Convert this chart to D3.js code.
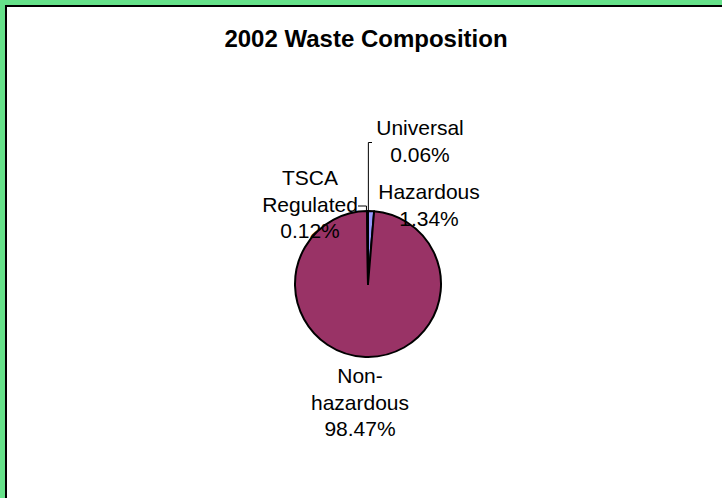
<!DOCTYPE html>
<html>
<head>
<meta charset="utf-8">
<title>2002 Waste Composition</title>
<script src="https://d3js.org/d3.v7.min.js"></script>
<style>
  body { margin: 0; background: #66e28a; }
  svg { display: block; font-family: "Liberation Sans", Arial, sans-serif; }
</style>
</head>
<body>
<svg id="chart" width="722" height="498"></svg>
<script>
// data
var categories = ["Hazardous", "Non-hazardous", "TSCA Regulated", "Universal"];
var shares = [1.34, 98.47, 0.12, 0.06];
var labelLines = [["Hazardous"], ["Non-", "hazardous"], ["TSCA", "Regulated"], ["Universal"]];
var sliceColors = ["#9999ff", "#993366", "#ffffcc", "#ccffff"];

var width = 722, height = 498;
var cx = 368, cy = 284, radius = 73;

// where Excel put each label (centre x, first baseline)
var labelPos = [
  { x: 429, y: 199 },
  { x: 360, y: 383 },
  { x: 310, y: 185 },
  { x: 420, y: 135 }
];
var lineGap = 26.5;

var svg = d3.select("#chart");

// plot area
svg.append("rect")
  .attr("x", 6).attr("y", 6)
  .attr("width", width).attr("height", height)
  .attr("fill", "#fff")
  .attr("stroke", "#000")
  .attr("stroke-width", 2);

svg.append("text")
  .attr("x", 366).attr("y", 47)
  .attr("text-anchor", "middle")
  .attr("font-size", 24)
  .attr("font-weight", "bold")
  .text("2002 Waste Composition");

var data = categories.map(function (c, i) {
  return { name: c, value: shares[i], color: sliceColors[i], lines: labelLines[i], pos: labelPos[i] };
});

var pie = d3.pie().sort(null).value(function (d) { return d.value; });
var arc = d3.arc().innerRadius(0).outerRadius(radius);
var arcs = pie(data);

var g = svg.append("g").attr("transform", "translate(" + cx + "," + cy + ")");

g.selectAll("path.slice")
  .data(arcs)
  .enter().append("path")
  .attr("class", "slice")
  .attr("d", arc)
  .attr("fill", function (d) { return d.data.color; })
  .attr("stroke", "#000")
  .attr("stroke-width", 2)
  .attr("stroke-linejoin", "round");

// leader lines for the two tiny slices
function edgePoint(d, r) {
  var a = (d.startAngle + d.endAngle) / 2;
  return [cx + Math.sin(a) * r, cy - Math.cos(a) * r];
}
var tsca = arcs[2], univ = arcs[3];
var pT = edgePoint(tsca, radius + 1);
var pU = edgePoint(univ, radius + 1);
var line = d3.line();
svg.append("path")
  .attr("d", line([[358, 206], [pT[0] - 1, 206], [pT[0] - 1, pT[1]]]))
  .attr("fill", "none").attr("stroke", "#000").attr("stroke-width", 1);
svg.append("path")
  .attr("d", line([[372, 142.5], [pU[0] + 0.5, 142.5], [pU[0] + 0.5, pU[1]]]))
  .attr("fill", "none").attr("stroke", "#000").attr("stroke-width", 1);

// labels
var labels = svg.selectAll("text.lab")
  .data(arcs)
  .enter().append("text")
  .attr("class", "lab")
  .attr("text-anchor", "middle")
  .attr("font-size", 21)
  .attr("fill", "#000");

labels.each(function (d) {
  var t = d3.select(this);
  var lines = d.data.lines.concat([d3.format(".2f")(d.data.value) + "%"]);
  lines.forEach(function (s, k) {
    t.append("tspan")
      .attr("x", d.data.pos.x)
      .attr("y", d.data.pos.y + k * lineGap)
      .text(s);
  });
});
</script>
</body>
</html>
